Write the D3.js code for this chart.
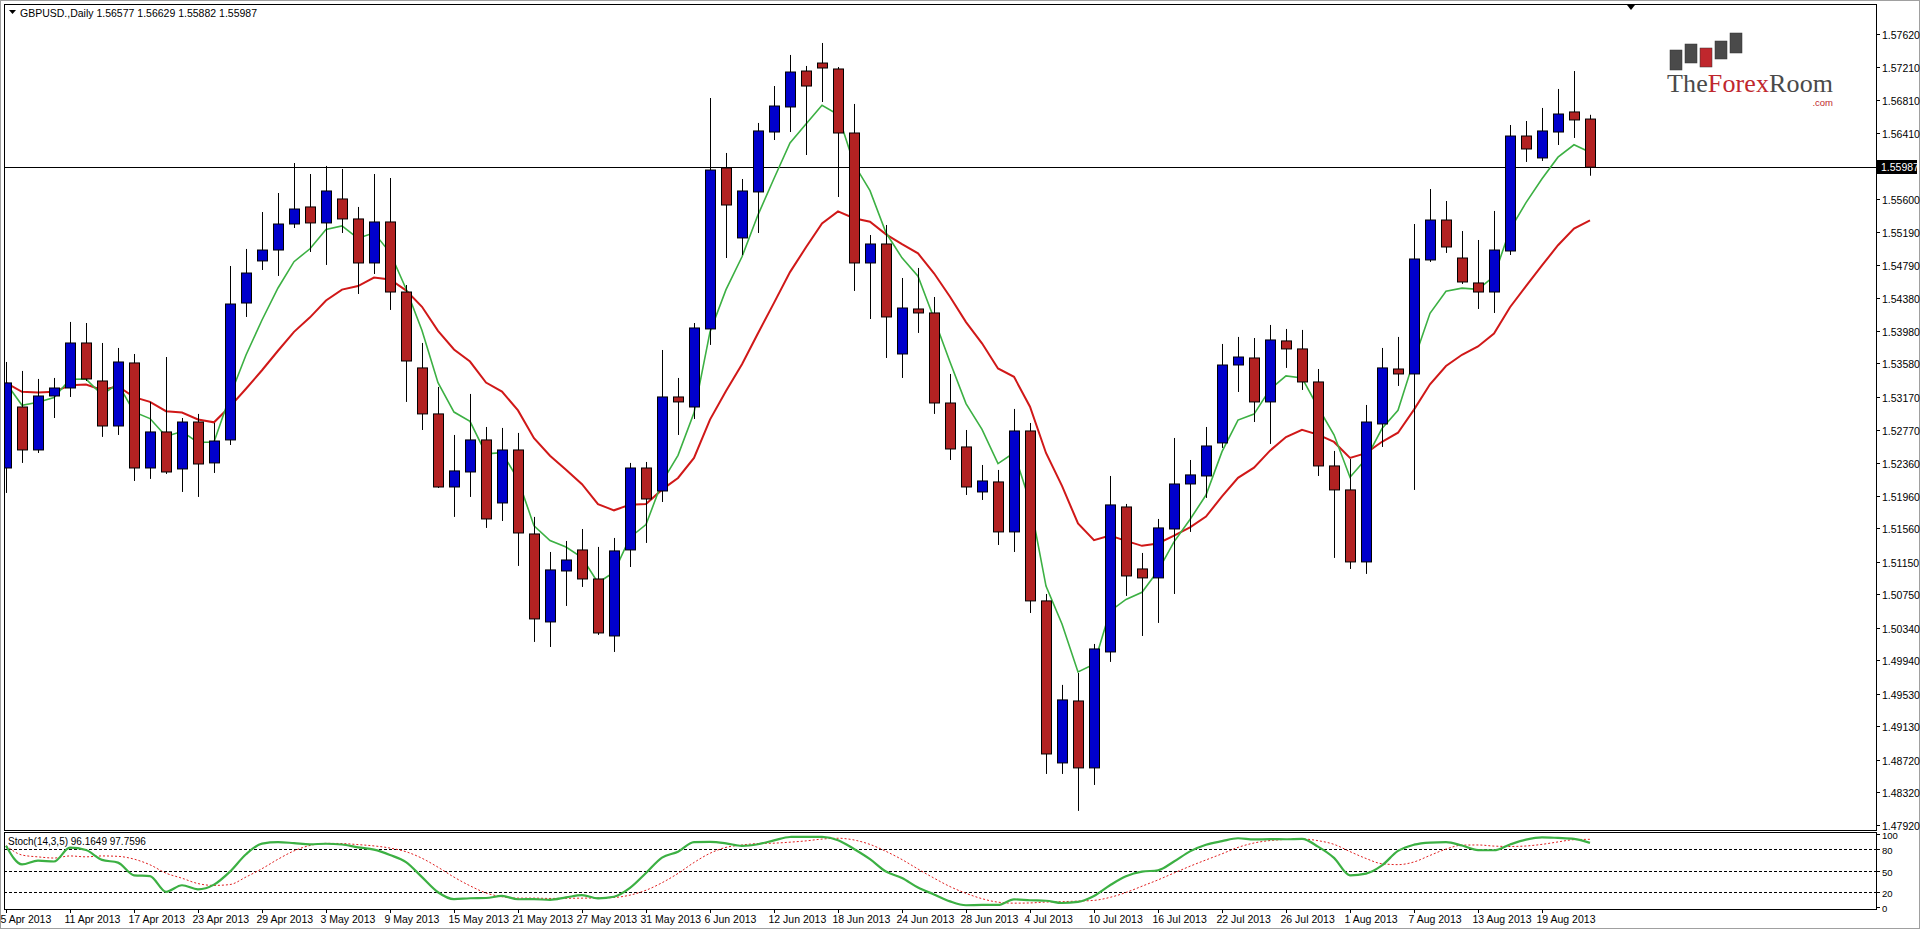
<!DOCTYPE html>
<html><head><meta charset="utf-8">
<script src="https://cdn.jsdelivr.net/npm/d3@7/dist/d3.min.js"></script>
<style>html,body{margin:0;padding:0;background:#fff;}svg{display:block;font-family:"Liberation Sans",Arial,sans-serif;}</style>
</head><body>
<svg id="c" width="1920" height="929"></svg>
<script>
const dates = ["5 Apr 2013","11 Apr 2013","17 Apr 2013","23 Apr 2013","29 Apr 2013","3 May 2013","9 May 2013","15 May 2013","21 May 2013","27 May 2013","31 May 2013","6 Jun 2013","12 Jun 2013","18 Jun 2013","24 Jun 2013","28 Jun 2013","4 Jul 2013","10 Jul 2013","16 Jul 2013","22 Jul 2013","26 Jul 2013","1 Aug 2013","7 Aug 2013","13 Aug 2013","19 Aug 2013"];
const openP = [1.52298,1.53046,1.52519,1.53181,1.53279,1.53831,1.53365,1.52813,1.53586,1.52298,1.52740,1.52286,1.52862,1.52360,1.52642,1.54321,1.54837,1.54971,1.55290,1.55499,1.55303,1.55597,1.55352,1.54812,1.55315,1.54456,1.53525,1.52961,1.52065,1.52249,1.52642,1.51869,1.52519,1.51489,1.50410,1.51035,1.51293,1.50937,1.50238,1.51293,1.52298,1.52016,1.53169,1.53046,1.54003,1.55977,1.55119,1.55683,1.56418,1.56725,1.57166,1.57264,1.57191,1.56406,1.54812,1.55045,1.53696,1.54248,1.54199,1.53095,1.52556,1.52004,1.52127,1.51514,1.52752,1.50668,1.48681,1.49441,1.48620,1.50042,1.51820,1.51060,1.50950,1.51550,1.52102,1.52200,1.52605,1.53561,1.53647,1.53108,1.53856,1.53758,1.53353,1.52323,1.52029,1.51146,1.52838,1.53512,1.53451,1.54849,1.55339,1.54873,1.54567,1.54456,1.54959,1.56369,1.56100,1.56418,1.56664,1.56577];
const highP = [1.53598,1.53488,1.53390,1.53402,1.54089,1.54076,1.53831,1.53770,1.53696,1.53108,1.53659,1.52911,1.52961,1.52850,1.54775,1.54984,1.55437,1.55670,1.56038,1.55903,1.56002,1.55965,1.55499,1.55903,1.55854,1.54542,1.53831,1.53292,1.52703,1.53206,1.52801,1.52789,1.52728,1.51698,1.51268,1.51403,1.51550,1.51330,1.51440,1.52360,1.52372,1.53745,1.53402,1.54076,1.56835,1.56161,1.55842,1.56529,1.56982,1.57363,1.57228,1.57510,1.57215,1.56762,1.55155,1.55278,1.54628,1.54751,1.54395,1.53451,1.52764,1.52335,1.52274,1.53022,1.52850,1.50753,1.49638,1.49785,1.50140,1.52200,1.51857,1.51256,1.51673,1.52666,1.52396,1.52801,1.53819,1.53905,1.53892,1.54052,1.54003,1.53991,1.53512,1.52507,1.52409,1.53071,1.53770,1.53905,1.55290,1.55719,1.55572,1.55204,1.55094,1.55450,1.56504,1.56553,1.56713,1.56946,1.57166,1.56629];
const lowP = [1.51992,1.52360,1.52482,1.52911,1.53169,1.53365,1.52679,1.52703,1.52139,1.52164,1.52225,1.52004,1.51943,1.52237,1.52580,1.54150,1.54726,1.54653,1.55241,1.54947,1.54788,1.55180,1.54432,1.54677,1.54236,1.53108,1.52764,1.52053,1.51698,1.51943,1.51563,1.51648,1.51097,1.50165,1.50103,1.50606,1.50839,1.50251,1.50042,1.51084,1.51379,1.51881,1.52703,1.52899,1.53807,1.54873,1.54910,1.55180,1.56320,1.56418,1.56136,1.56786,1.55621,1.54469,1.54125,1.53647,1.53402,1.53954,1.52961,1.52396,1.51967,1.51906,1.51354,1.51268,1.50520,1.48546,1.48546,1.48093,1.48411,1.49920,1.50729,1.50238,1.50398,1.50753,1.51514,1.51931,1.52544,1.53230,1.52862,1.52593,1.53525,1.53255,1.52200,1.51195,1.51060,1.50999,1.52556,1.53304,1.52029,1.54825,1.54935,1.54555,1.54248,1.54199,1.54910,1.56051,1.56063,1.56259,1.56345,1.55882];
const closeP = [1.53341,1.52519,1.53181,1.53279,1.53831,1.53390,1.52813,1.53598,1.52298,1.52740,1.52249,1.52862,1.52347,1.52629,1.54309,1.54689,1.54971,1.55290,1.55474,1.55303,1.55695,1.55352,1.54812,1.55315,1.54456,1.53610,1.52961,1.52065,1.52262,1.52642,1.51673,1.52519,1.51501,1.50447,1.51048,1.51170,1.50937,1.50275,1.51281,1.52298,1.51918,1.53169,1.53108,1.54015,1.55952,1.55523,1.55695,1.56431,1.56737,1.57154,1.56982,1.57203,1.56406,1.54812,1.55045,1.54150,1.54260,1.54199,1.53095,1.52531,1.52065,1.52139,1.51514,1.52752,1.50668,1.48791,1.49454,1.48620,1.50079,1.51845,1.50974,1.50950,1.51563,1.52102,1.52213,1.52568,1.53561,1.53659,1.53108,1.53868,1.53758,1.53353,1.52323,1.52029,1.51146,1.52862,1.53525,1.53451,1.54861,1.55339,1.55008,1.54579,1.54456,1.54971,1.56369,1.56210,1.56431,1.56639,1.56566,1.55987];
const priceTicks = [1.57620,1.57210,1.56810,1.56410,1.55600,1.55190,1.54790,1.54380,1.53980,1.53580,1.53170,1.52770,1.52360,1.51960,1.51560,1.51150,1.50750,1.50340,1.49940,1.49530,1.49130,1.48720,1.48320,1.47920];
const stochLevels = [80,50,20];
const stochTicks = [100,80,50,20,0];
const lastPrice = 1.55987;

const svg = d3.select("#c");
const n = closeP.length;
const x = d3.scaleLinear().domain([0, n-1]).range([6, 1590]);
const y = d3.scaleLinear().domain([1.4792, 1.5762]).range([825, 34]);
const ys = d3.scaleLinear().domain([0, 100]).range([907, 834]);
const L = 4, R = 1876;

svg.append("rect").attr("x",0.5).attr("y",0.5).attr("width",1919).attr("height",928).attr("fill","none").attr("stroke","#a0a0a0");
svg.append("rect").attr("x",L+0.5).attr("y",4.5).attr("width",R-L).attr("height",826).attr("fill","none").attr("stroke","#000");
svg.append("rect").attr("x",L+0.5).attr("y",832.5).attr("width",R-L).attr("height",77).attr("fill","none").attr("stroke","#000");

svg.append("clipPath").attr("id","cm").append("rect").attr("x",L+1).attr("y",5).attr("width",R-L-1).attr("height",825);
svg.append("clipPath").attr("id","cs").append("rect").attr("x",L+1).attr("y",833).attr("width",R-L-1).attr("height",76);

const logo = svg.append("g");
const logoBars = [[1670,50,70,"#4a4a4a"],[1685,44,63,"#4a4a4a"],[1700,48,67,"#c0272d"],[1715,41,59,"#4a4a4a"],[1730,33,53,"#4a4a4a"]];
logoBars.forEach(b=>logo.append("rect").attr("x",b[0]).attr("y",b[1]).attr("width",12).attr("height",b[2]-b[1]).attr("fill",b[3]).attr("stroke","#333").attr("stroke-width",0.5));
const lt = logo.append("text").attr("x",1667).attr("y",92).attr("font-family","Liberation Serif, serif").attr("font-size",26).attr("textLength",166).attr("fill","#4a4a4a");
lt.append("tspan").text("The");
lt.append("tspan").attr("fill","#c0272d").text("Forex");
lt.append("tspan").text("Room");
logo.append("text").attr("x",1833).attr("y",106).attr("text-anchor","end").attr("font-size",9.5).attr("fill","#c0272d").text(".com");

const main = svg.append("g").attr("clip-path","url(#cm)");
main.append("line").attr("x1",L).attr("x2",R).attr("y1",Math.round(y(lastPrice))+0.5).attr("y2",Math.round(y(lastPrice))+0.5).attr("stroke","#000");

function sma(arr, p){ return arr.map((v,i)=>d3.mean(arr.slice(Math.max(0,i-p+1),i+1))); }
function ema(arr, p){ const k=2/(p+1); let e=arr[0]; return arr.map((v,i)=>{ if(i>0) e=v*k+e*(1-k); return e; }); }
const maFast = ema(closeP,5), maSlow = ema(closeP,14);
const line = d3.line().x((d,i)=>x(i)).y(d=>y(d));
main.append("path").attr("d",line(maSlow)).attr("fill","none").attr("stroke","#d01818").attr("stroke-width",2);
main.append("path").attr("d",line(maFast)).attr("fill","none").attr("stroke","#3cb043").attr("stroke-width",1.6);

const idx = d3.range(n);
main.selectAll(".w").data(idx).join("line").attr("x1",i=>Math.round(x(i))+0.5).attr("x2",i=>Math.round(x(i))+0.5)
  .attr("y1",i=>y(highP[i])).attr("y2",i=>y(lowP[i])).attr("stroke","#000").attr("stroke-width",1);
main.selectAll(".b").data(idx).join("rect")
  .attr("x",i=>Math.round(x(i))-4.5).attr("width",10)
  .attr("y",i=>y(Math.max(openP[i],closeP[i])))
  .attr("height",i=>Math.max(2,Math.abs(y(openP[i])-y(closeP[i]))))
  .attr("fill",i=>closeP[i]>=openP[i]?"#0000cc":"#b22222").attr("stroke","#000").attr("stroke-width",1);

svg.append("path").attr("d","M1627,5 L1635,5 L1631,10 Z").attr("fill","#000");

svg.append("path").attr("d","M9,10 L16,10 L12.5,14 Z").attr("fill","#000");
svg.append("text").attr("x",20).attr("y",17).attr("font-size",10.5).attr("fill","#000").text("GBPUSD.,Daily  1.56577 1.56629 1.55882 1.55987");

priceTicks.forEach(p=>{
  const yy=Math.round(y(p))+0.5;
  svg.append("line").attr("x1",R).attr("x2",R+4).attr("y1",yy).attr("y2",yy).attr("stroke","#000");
  svg.append("text").attr("x",R+6).attr("y",yy+4).attr("font-size",10.5).text(p.toFixed(5));
});
const ly = Math.round(y(lastPrice));
svg.append("rect").attr("x",R+1).attr("y",ly-7).attr("width",40).attr("height",14).attr("fill","#000");
svg.append("text").attr("x",R+5).attr("y",ly+4).attr("font-size",10.5).attr("fill","#fff").text(lastPrice.toFixed(5));

const kRaw = idx.map(i=>{
  const s=Math.max(0,i-13);
  return {num: closeP[i]-d3.min(lowP.slice(s,i+1)), den: d3.max(highP.slice(s,i+1))-d3.min(lowP.slice(s,i+1))};
});
const kMain = idx.map(i=>{ const s=kRaw.slice(Math.max(0,i-2),i+1); const dd=d3.sum(s,d=>d.den); return dd>0?100*d3.sum(s,d=>d.num)/dd:50; });
const kSig = sma(kMain,5);
const st = svg.append("g").attr("clip-path","url(#cs)");
stochLevels.forEach(v=>st.append("line").attr("x1",L).attr("x2",R).attr("y1",Math.round(ys(v))+0.5).attr("y2",Math.round(ys(v))+0.5).attr("stroke","#000").attr("stroke-dasharray","3,2"));
const sl = d3.line().x((d,i)=>x(i)).y(d=>ys(d)).curve(d3.curveMonotoneX);
st.append("path").attr("d",sl(kSig)).attr("fill","none").attr("stroke","#e02020").attr("stroke-width",1).attr("stroke-dasharray","2,2");
st.append("path").attr("d",sl(kMain)).attr("fill","none").attr("stroke","#3cb043").attr("stroke-width",2.2);
svg.append("text").attr("x",8).attr("y",845).attr("font-size",10).text("Stoch(14,3,5) 96.1649 97.7596");
stochTicks.forEach(v=>{
  const yy=Math.round(ys(v))+0.5;
  svg.append("line").attr("x1",R).attr("x2",R+4).attr("y1",yy).attr("y2",yy).attr("stroke","#000");
  svg.append("text").attr("x",R+6).attr("y",yy+4).attr("font-size",9.5).text(v);
});

dates.forEach((d,j)=>{
  const xx=Math.round(x(j*4))+0.5;
  svg.append("line").attr("x1",xx).attr("x2",xx).attr("y1",909).attr("y2",913).attr("stroke","#000");
  svg.append("text").attr("x",xx-6).attr("y",923).attr("font-size",10.5).text(d);
});
</script>
</body></html>
